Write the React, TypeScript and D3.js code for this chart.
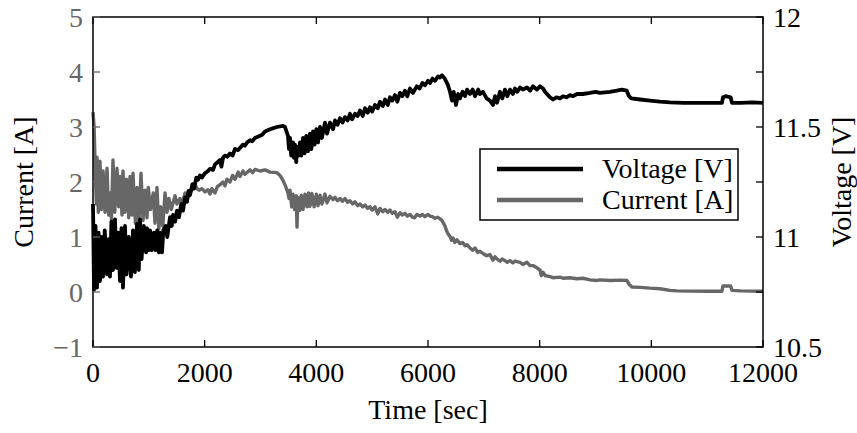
import React from "react";
import * as d3 from "d3";

// ---- Data: [time sec, value] ----
const voltageSeries: [number, number][] = [
  [0, 11.15], [18, 10.76], [45, 11.05], [72, 10.77], [100, 11.02], [125, 10.8], [150, 11.0], [179, 10.82], [210, 11.03], [251, 10.83],
  [280, 10.99], [304, 10.82], [330, 11.07], [358, 10.85], [394, 11.08], [420, 10.86], [450, 11.02], [484, 10.8], [510, 11.04], [537, 10.77],
  [573, 11.05], [600, 10.83], [640, 11.0], [680, 10.82], [716, 11.03], [750, 10.84], [788, 11.06], [820, 10.85], [842, 11.08], [870, 10.9],
  [910, 11.05], [950, 10.93], [967, 11.04], [1000, 10.94], [1021, 11.03], [1050, 10.94], [1090, 11.02], [1120, 10.94], [1150, 11.03], [1180, 10.93],
  [1200, 11.02], [1236, 10.93], [1260, 11.03], [1300, 11.05], [1330, 11.0], [1379, 11.09], [1410, 11.05], [1433, 11.1], [1470, 11.07], [1504, 11.12],
  [1540, 11.09], [1580, 11.15], [1612, 11.12], [1650, 11.18], [1684, 11.16], [1710, 11.21], [1737, 11.19], [1780, 11.24], [1810, 11.22], [1850, 11.27],
  [1880, 11.26], [1916, 11.28], [1950, 11.27], [2006, 11.29], [2060, 11.3], [2095, 11.31], [2150, 11.305], [2185, 11.33], [2230, 11.34], [2275, 11.35],
  [2300, 11.32], [2328, 11.36], [2364, 11.37], [2410, 11.365], [2454, 11.38], [2500, 11.37], [2543, 11.4], [2600, 11.395], [2687, 11.42], [2720, 11.415],
  [2760, 11.43], [2812, 11.44], [2850, 11.435], [2900, 11.45], [2991, 11.46], [3030, 11.465], [3081, 11.48], [3170, 11.49], [3230, 11.495], [3295, 11.5],
  [3400, 11.505], [3439, 11.5], [3492, 11.46], [3510, 11.4], [3528, 11.45], [3550, 11.37], [3582, 11.43], [3600, 11.36], [3618, 11.42], [3640, 11.34],
  [3654, 11.41], [3680, 11.37], [3707, 11.43], [3730, 11.37], [3761, 11.45], [3790, 11.38], [3820, 11.46], [3850, 11.39], [3886, 11.47], [3910, 11.4],
  [3940, 11.48], [3970, 11.42], [4000, 11.49], [4030, 11.43], [4066, 11.5], [4100, 11.45], [4155, 11.52], [4191, 11.47], [4245, 11.52], [4300, 11.49],
  [4334, 11.53], [4380, 11.51], [4424, 11.54], [4470, 11.52], [4513, 11.545], [4560, 11.53], [4603, 11.56], [4640, 11.535], [4692, 11.56], [4740, 11.55],
  [4782, 11.575], [4830, 11.55], [4872, 11.585], [4920, 11.565], [4961, 11.59], [5000, 11.57], [5051, 11.6], [5100, 11.585], [5140, 11.615], [5190, 11.595],
  [5230, 11.625], [5280, 11.6], [5319, 11.635], [5360, 11.62], [5409, 11.645], [5450, 11.615], [5498, 11.655], [5540, 11.64], [5588, 11.665], [5630, 11.64],
  [5677, 11.675], [5731, 11.655], [5800, 11.685], [5850, 11.675], [5900, 11.7], [5946, 11.69], [6000, 11.71], [6036, 11.7], [6080, 11.72], [6125, 11.71],
  [6180, 11.73], [6215, 11.725], [6251, 11.735], [6300, 11.72], [6358, 11.69], [6394, 11.66], [6430, 11.62], [6460, 11.66], [6500, 11.6], [6540, 11.65],
  [6573, 11.63], [6620, 11.66], [6663, 11.64], [6700, 11.67], [6752, 11.65], [6800, 11.67], [6842, 11.64], [6900, 11.67], [6931, 11.65], [6985, 11.66],
  [7050, 11.63], [7110, 11.62], [7164, 11.6], [7200, 11.64], [7236, 11.61], [7289, 11.66], [7330, 11.63], [7379, 11.67], [7420, 11.64], [7468, 11.67],
  [7520, 11.65], [7558, 11.675], [7600, 11.66], [7648, 11.68], [7700, 11.67], [7773, 11.68], [7830, 11.665], [7880, 11.685], [7950, 11.67], [8006, 11.685],
  [8060, 11.675], [8095, 11.66], [8185, 11.635], [8239, 11.625], [8300, 11.635], [8364, 11.63], [8418, 11.64], [8480, 11.635], [8543, 11.645], [8600, 11.64],
  [8668, 11.65], [8776, 11.65], [8901, 11.655], [9000, 11.66], [9080, 11.655], [9259, 11.66], [9380, 11.665], [9474, 11.67], [9560, 11.665], [9600, 11.64],
  [9640, 11.63], [9800, 11.625], [9976, 11.62], [10155, 11.615], [10334, 11.612], [10567, 11.61], [10870, 11.61], [11265, 11.61], [11283, 11.635], [11330, 11.64],
  [11420, 11.635], [11444, 11.61], [11600, 11.61], [11800, 11.612], [12000, 11.61],
];

const currentSeries: [number, number][] = [
  [0, 3.27], [20, 3.0], [40, 2.2], [60, 1.6], [72, 2.45], [95, 1.45], [125, 2.38], [150, 1.5], [180, 2.2], [215, 1.45],
  [251, 2.25], [280, 1.4], [304, 1.8], [330, 1.32], [358, 2.4], [390, 1.45], [430, 2.25], [460, 1.55], [484, 2.1], [520, 1.4],
  [537, 2.2], [570, 1.45], [600, 2.05], [640, 1.35], [663, 2.1], [700, 1.4], [716, 2.16], [760, 1.25], [790, 1.9], [820, 1.2],
  [860, 2.16], [896, 1.3], [930, 1.85], [967, 1.35], [990, 1.9], [1030, 1.5], [1080, 1.8], [1110, 1.25], [1146, 1.9], [1180, 1.15],
  [1210, 1.55], [1250, 1.2], [1290, 1.8], [1325, 1.45], [1360, 1.7], [1400, 1.5], [1470, 1.75], [1504, 1.6], [1558, 1.7], [1600, 1.62],
  [1650, 1.8], [1700, 1.72], [1737, 1.8], [1780, 1.88], [1827, 1.95], [1863, 1.88], [1900, 1.85], [1950, 1.88], [2006, 1.82], [2060, 1.86],
  [2095, 1.78], [2130, 1.88], [2185, 1.8], [2230, 1.92], [2275, 1.95], [2328, 2.0], [2364, 1.93], [2400, 2.05], [2454, 2.0], [2500, 2.12],
  [2543, 2.05], [2600, 2.18], [2633, 2.1], [2687, 2.2], [2722, 2.14], [2812, 2.22], [2860, 2.17], [2901, 2.23], [2991, 2.2], [3081, 2.22],
  [3170, 2.18], [3295, 2.17], [3349, 2.12], [3403, 2.03], [3450, 1.92], [3492, 1.8], [3510, 1.7], [3528, 1.85], [3560, 1.55], [3582, 1.78],
  [3610, 1.5], [3640, 1.75], [3654, 1.18], [3670, 1.72], [3700, 1.48], [3730, 1.76], [3761, 1.5], [3797, 1.78], [3833, 1.55], [3860, 1.8],
  [3886, 1.56], [3920, 1.79], [3960, 1.55], [4000, 1.78], [4030, 1.57], [4066, 1.76], [4100, 1.6], [4155, 1.78], [4191, 1.62], [4245, 1.74],
  [4300, 1.68], [4334, 1.72], [4380, 1.66], [4424, 1.7], [4470, 1.65], [4513, 1.7], [4560, 1.63], [4603, 1.66], [4650, 1.6], [4692, 1.64],
  [4740, 1.57], [4782, 1.6], [4830, 1.55], [4872, 1.58], [4920, 1.52], [4961, 1.55], [5000, 1.49], [5051, 1.55], [5100, 1.42], [5140, 1.52],
  [5190, 1.46], [5230, 1.5], [5280, 1.45], [5319, 1.49], [5360, 1.43], [5409, 1.46], [5450, 1.36], [5498, 1.44], [5540, 1.4], [5588, 1.43],
  [5630, 1.38], [5677, 1.41], [5720, 1.36], [5760, 1.35], [5800, 1.41], [5857, 1.38], [5900, 1.41], [5946, 1.37], [6000, 1.41], [6036, 1.38],
  [6080, 1.37], [6125, 1.34], [6170, 1.36], [6215, 1.33], [6251, 1.3], [6304, 1.2], [6330, 1.12], [6358, 1.06], [6400, 1.0], [6420, 0.94],
  [6450, 0.98], [6480, 0.9], [6519, 0.95], [6573, 0.88], [6620, 0.9], [6663, 0.84], [6700, 0.86], [6752, 0.8], [6800, 0.76], [6842, 0.8],
  [6890, 0.72], [6931, 0.74], [6985, 0.7], [7050, 0.66], [7110, 0.68], [7164, 0.58], [7200, 0.64], [7236, 0.6], [7289, 0.56], [7330, 0.6],
  [7379, 0.57], [7420, 0.54], [7468, 0.57], [7520, 0.53], [7558, 0.56], [7648, 0.54], [7701, 0.5], [7773, 0.54], [7827, 0.48], [7880, 0.48],
  [7950, 0.44], [8006, 0.4], [8030, 0.3], [8060, 0.36], [8095, 0.3], [8185, 0.28], [8239, 0.26], [8364, 0.27], [8418, 0.25], [8543, 0.26],
  [8668, 0.24], [8776, 0.25], [8901, 0.22], [9027, 0.21], [9080, 0.22], [9259, 0.21], [9438, 0.215], [9564, 0.21], [9600, 0.14], [9653, 0.09],
  [9800, 0.085], [9976, 0.07], [10155, 0.06], [10334, 0.03], [10459, 0.02], [10700, 0.015], [11000, 0.015], [11265, 0.015], [11283, 0.11], [11420, 0.11],
  [11444, 0.03], [11600, 0.02], [12000, 0.014],
];

const xTicks = [0, 2000, 4000, 6000, 8000, 10000, 12000];
const leftTicks = [-1, 0, 1, 2, 3, 4, 5];
const rightTicks = [10.5, 10.75, 11, 11.25, 11.5, 11.75, 12];
const rightTickLabels = [10.5, 11, 11.5, 12];
const seriesNames = ["Voltage [V]", "Current [A]"];
const xTitle = "Time [sec]";
const yLeftTitle = "Current [A]";
const yRightTitle = "Voltage [V]";

const W = 857;
const H = 433;
const L = 93, R = 763, T = 17, B = 347;
const GRAY = "#676767";
const FONT = "Liberation Serif";

function Label(props: any) {
  const { children, ...rest } = props;
  return (
    <text fontFamily={FONT} fontSize={28} style={{ fontFamily: FONT, fontSize: 28 }} {...rest}>
      {children}
    </text>
  );
}

export default function App() {
  const x = d3.scaleLinear().domain([0, 12000]).range([L, R]);
  const yL = d3.scaleLinear().domain([-1, 5]).range([B, T]);
  const yR = d3.scaleLinear().domain([10.5, 12]).range([B, T]);

  const vLine = d3
    .line<[number, number]>()
    .x((d) => x(d[0]))
    .y((d) => yR(d[1]));
  const cLine = d3
    .line<[number, number]>()
    .x((d) => x(d[0]))
    .y((d) => yL(d[1]));

  const tickLen = 7;

  return (
    <svg
      width={W}
      height={H}
      fontFamily={FONT}
      style={{ position: "absolute", left: 0, top: 0, display: "block", background: "#fff", fontFamily: FONT }}
    >
      <rect x={0} y={0} width={W} height={H} fill="#fff" />
      {/* series */}
      <path d={cLine(currentSeries) || ""} fill="none" stroke={GRAY} strokeWidth={3.4} strokeLinejoin="round" />
      <path d={vLine(voltageSeries) || ""} fill="none" stroke="#000" strokeWidth={3.8} strokeLinejoin="round" />

      {/* frame */}
      <rect x={L} y={T} width={R - L} height={B - T} fill="none" stroke="#000" strokeWidth={1.5} />

      {/* x ticks */}
      {xTicks.map((t) => (
        <g key={"x" + t}>
          <line x1={x(t)} x2={x(t)} y1={B} y2={B - tickLen} stroke="#000" strokeWidth={1.3} />
          <line x1={x(t)} x2={x(t)} y1={T} y2={T + tickLen} stroke="#000" strokeWidth={1.3} />
          <Label x={x(t)} y={382} textAnchor="middle" fill="#000">
            {String(t)}
          </Label>
        </g>
      ))}

      {/* left ticks */}
      {leftTicks.map((t) => (
        <g key={"l" + t}>
          <line x1={L} x2={L + tickLen} y1={yL(t)} y2={yL(t)} stroke={GRAY} strokeWidth={1.3} />
          <Label x={83} y={yL(t) + 10} textAnchor="end" fill={GRAY}>
            {t < 0 ? "\u2212" + Math.abs(t) : String(t)}
          </Label>
        </g>
      ))}

      {/* right ticks */}
      {rightTicks.map((t) => (
        <line key={"r" + t} x1={R} x2={R - tickLen} y1={yR(t)} y2={yR(t)} stroke="#000" strokeWidth={1.3} />
      ))}
      {rightTickLabels.map((t) => (
        <Label key={"rl" + t} x={773} y={yR(t) + 10} textAnchor="start" fill="#000">
          {String(t)}
        </Label>
      ))}

      {/* axis titles */}
      <Label x={(L + R) / 2} y={419} textAnchor="middle" fill="#000">
        {xTitle}
      </Label>
      <Label transform={`translate(33, ${(T + B) / 2}) rotate(-90)`} textAnchor="middle" fill="#000">
        {yLeftTitle}
      </Label>
      <Label transform={`translate(851, ${(T + B) / 2}) rotate(-90)`} textAnchor="middle" fill="#000">
        {yRightTitle}
      </Label>

      {/* legend */}
      <rect x={480} y={149} width={258} height={71} fill="#fff" stroke="#000" strokeWidth={1.5} />
      <line x1={497} x2={583} y1={169} y2={169} stroke="#000" strokeWidth={4.5} />
      <line x1={497} x2={583} y1={200} y2={200} stroke={GRAY} strokeWidth={4.5} />
      <Label x={602} y={178}>
        {seriesNames[0]}
      </Label>
      <Label x={602} y={209}>
        {seriesNames[1]}
      </Label>
    </svg>
  );
}
